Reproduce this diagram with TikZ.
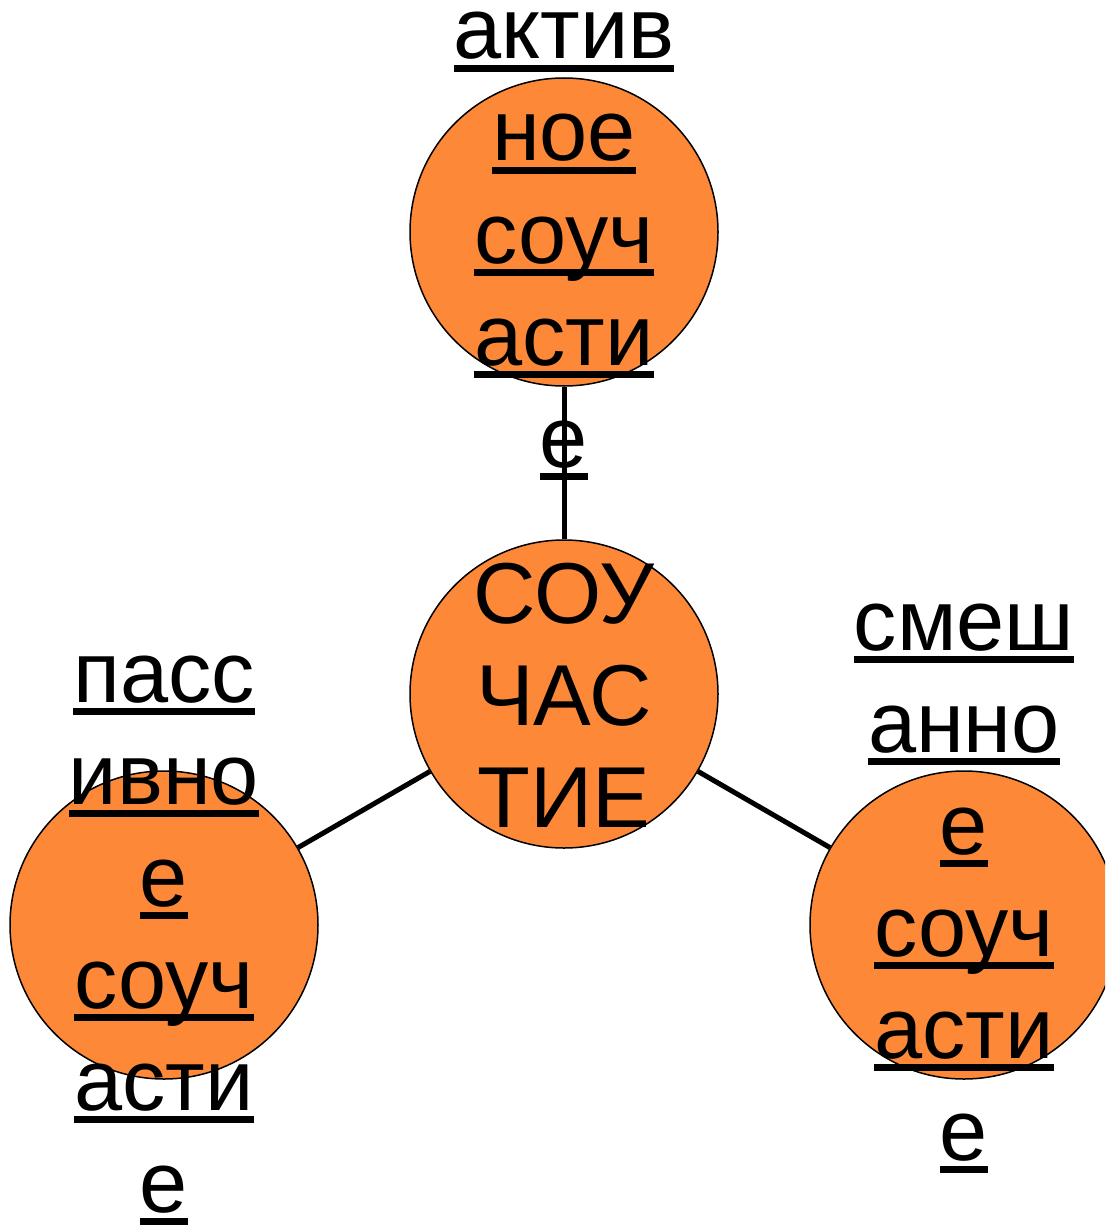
\documentclass[tikz,border=0pt]{standalone}
\usepackage{fontspec}
\setmainfont{Liberation Sans}
\definecolor{orng}{RGB}{253,137,56}
\newcommand\myul[1]{\setbox0\hbox{#1}\rlap{\rule[-13pt]{\wd0}{7pt}}\box0}
\begin{document}
\begin{tikzpicture}[x=1pt,y=-1pt,
  blob/.style={circle,draw=black,line width=1.5pt,fill=orng,minimum size=308pt,inner sep=0pt},
  conn/.style={line width=5pt,black},
  lbl/.style={anchor=base,inner sep=0pt,font=\fontsize{86.5}{102}\selectfont}]
\useasboundingbox (0,0) rectangle (1105,1225);
\clip (0,0) rectangle (1105,1225);
\node[blob] (top) at (564,232) {};
\node[blob] (mid) at (564,694) {};
\node[blob] (left) at (164,925) {};
\node[blob] (right) at (964,925) {};
\draw[conn] (top) -- (mid);
\draw[conn] (mid) -- (left);
\draw[conn] (mid) -- (right);
\foreach \w [count=\i] in {актив,ное,соуч,асти,е}
  \node[lbl] (ta\i) at (564,{59+102*(\i-1)}) {\myul{\w}};
\foreach \w [count=\i] in {СОУ,ЧАС,ТИЕ}
  \node[lbl] (tm\i) at (564,{623+102*(\i-1)}) {\w};
\foreach \w [count=\i] in {пасс,ивно,е,соуч,асти,е}
  \node[lbl] (tl\i) at (164,{702+102*(\i-1)}) {\myul{\w}};
\foreach \w [count=\i] in {смеш,анно,е,соуч,асти,е}
  \node[lbl] (tr\i) at (964,{650+102*(\i-1)}) {\myul{\w}};
\end{tikzpicture}
\end{document}
